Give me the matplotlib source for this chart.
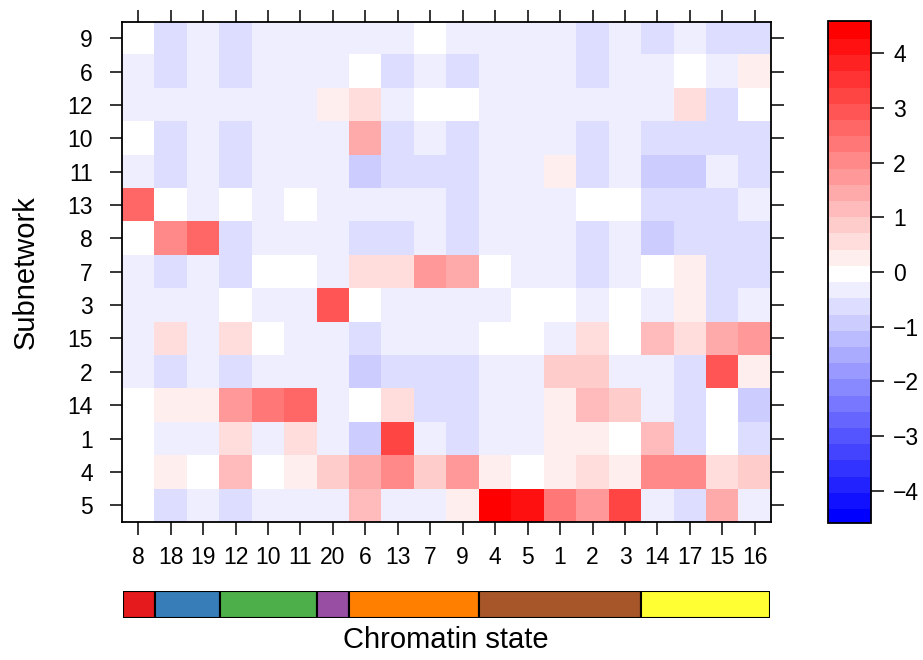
import numpy as np
import matplotlib
matplotlib.use("Agg")
import matplotlib.pyplot as plt
from matplotlib.colors import LinearSegmentedColormap, BoundaryNorm

plt.rcParams["font.family"] = ["Liberation Sans", "DejaVu Sans"]

# chromatin states (columns) and subnetworks (rows, top to bottom)
states = ["8", "18", "19", "12", "10", "11", "20", "6", "13", "7", "9",
          "4", "5", "1", "2", "3", "14", "17", "15", "16"]
subnets = ["9", "6", "12", "10", "11", "13", "8", "7", "3", "15", "2",
           "14", "1", "4", "5"]

# enrichment scores, one row per subnetwork
scores = [
    [0.00, -0.59, -0.30, -0.59, -0.30, -0.30, -0.30, -0.30, -0.30, 0.00, -0.30, -0.30, -0.30, -0.30, -0.59, -0.30, -0.59, -0.30, -0.59, -0.59],
    [-0.30, -0.59, -0.30, -0.59, -0.30, -0.30, -0.30, 0.00, -0.59, -0.30, -0.59, -0.30, -0.30, -0.30, -0.59, -0.30, -0.30, 0.00, -0.30, 0.30],
    [-0.30, -0.30, -0.30, -0.30, -0.30, -0.30, 0.30, 0.59, -0.30, 0.00, 0.00, -0.30, -0.30, -0.30, -0.30, -0.30, -0.30, 0.59, -0.59, 0.00],
    [0.00, -0.59, -0.30, -0.59, -0.30, -0.30, -0.30, 1.48, -0.59, -0.30, -0.59, -0.30, -0.30, -0.30, -0.59, -0.30, -0.59, -0.59, -0.59, -0.59],
    [-0.30, -0.59, -0.30, -0.59, -0.30, -0.30, -0.30, -0.89, -0.59, -0.59, -0.59, -0.30, -0.30, 0.30, -0.59, -0.30, -0.89, -0.89, -0.30, -0.59],
    [2.67, 0.00, -0.30, 0.00, -0.30, 0.00, -0.30, -0.30, -0.30, -0.30, -0.59, -0.30, -0.30, -0.30, 0.00, 0.00, -0.59, -0.59, -0.59, -0.30],
    [0.00, 2.07, 2.67, -0.59, -0.30, -0.30, -0.30, -0.59, -0.59, -0.30, -0.59, -0.30, -0.30, -0.30, -0.59, -0.30, -0.89, -0.59, -0.59, -0.59],
    [-0.30, -0.59, -0.30, -0.59, 0.00, 0.00, -0.30, 0.59, 0.59, 1.78, 1.48, 0.00, -0.30, -0.30, -0.59, -0.30, 0.00, 0.30, -0.59, -0.59],
    [-0.30, -0.30, -0.30, 0.00, -0.30, -0.30, 2.96, 0.00, -0.30, -0.30, -0.30, -0.30, 0.00, 0.00, -0.30, 0.00, -0.30, 0.30, -0.59, -0.30],
    [-0.30, 0.59, -0.30, 0.59, 0.00, -0.30, -0.30, -0.59, -0.30, -0.30, -0.30, 0.00, 0.00, -0.30, 0.59, 0.00, 1.18, 0.59, 1.48, 1.78],
    [-0.30, -0.59, -0.30, -0.59, -0.30, -0.30, -0.30, -0.89, -0.59, -0.59, -0.59, -0.30, -0.30, 0.89, 0.89, -0.30, -0.30, -0.59, 2.96, 0.30],
    [0.00, 0.30, 0.30, 1.78, 2.37, 2.67, -0.30, 0.00, 0.59, -0.59, -0.59, -0.30, -0.30, 0.30, 1.18, 0.89, -0.30, -0.59, 0.00, -0.89],
    [0.00, -0.30, -0.30, 0.59, -0.30, 0.59, -0.30, -0.89, 3.26, -0.30, -0.59, -0.30, -0.30, 0.30, 0.30, 0.00, 1.18, -0.59, 0.00, -0.59],
    [0.00, 0.30, 0.00, 1.18, 0.00, 0.30, 0.89, 1.48, 2.07, 0.89, 1.78, 0.30, 0.00, 0.30, 0.59, 0.30, 2.07, 2.07, 0.59, 0.89],
    [0.00, -0.59, -0.30, -0.59, -0.30, -0.30, -0.30, 1.18, -0.30, -0.30, 0.30, 4.44, 4.14, 2.37, 1.78, 3.26, -0.30, -0.59, 1.48, -0.30],
]

# chromatin state groups shown in the strip under the axis
group_sizes = [1, 2, 3, 1, 4, 5, 4]
group_colors = ["#E41A1C", "#377EB8", "#4DAF4A", "#984EA3",
                "#FF7F00", "#A65628", "#FFFF33"]

score_lim = 4.59
n_levels = 31

W, H = 923, 660
fig = plt.figure(figsize=(W / 100, H / 100), dpi=100)


def box(x0, y0, x1, y1):
    return [x0 / W, 1 - y1 / H, (x1 - x0) / W, (y1 - y0) / H]


cmap = LinearSegmentedColormap.from_list("bwr3", ["blue", "white", "red"], N=n_levels)
bounds = np.linspace(-score_lim, score_lim, n_levels + 1)
norm = BoundaryNorm(bounds, n_levels)

ax = fig.add_axes(box(122, 21.5, 771, 522))
im = ax.imshow(np.array(scores), cmap=cmap, norm=norm, aspect="auto",
               interpolation="nearest", extent=(-0.5, len(states) - 0.5, len(subnets) - 0.5, -0.5))
ax.set_xticks(range(len(states)))
ax.set_xticklabels(states)
ax.set_yticks(range(len(subnets)))
ax.set_yticklabels(subnets)
ax.tick_params(direction="out", length=9, width=1.1, labelsize=16.5,
               top=True, right=True, labeltop=False, labelright=False)
ax.tick_params(axis="x", pad=8)
ax.tick_params(axis="y", pad=12)
for s in ax.spines.values():
    s.set_linewidth(1.3)
ax.set_ylabel("Subnetwork", fontsize=21, labelpad=20)

# colour key
cax = fig.add_axes(box(828, 20.7, 871, 523.3))
cb = fig.colorbar(im, cax=cax, ticks=np.arange(-4, 5))
cb.minorticks_off()
cb.solids.set_edgecolor("face")
cb.outline.set_linewidth(1.3)
cax.tick_params(direction="out", length=9, width=1.1, labelsize=16.5, pad=7)

# group strip for chromatin states
sax = fig.add_axes(box(123, 591, 770, 618))
lefts = np.concatenate([[0], np.cumsum(group_sizes)[:-1]]) - 0.5
sax.barh(0, group_sizes, left=lefts, height=1, color=group_colors,
         edgecolor="black", linewidth=1.5, align="center")
sax.set_xlim(-0.5, len(states) - 0.5)
sax.set_ylim(-0.5, 0.5)
sax.axis("off")
fig.text(446 / W, 1 - 640 / H, "Chromatin state", fontsize=21, ha="center", va="center")

fig.savefig("out.png", dpi=100)
